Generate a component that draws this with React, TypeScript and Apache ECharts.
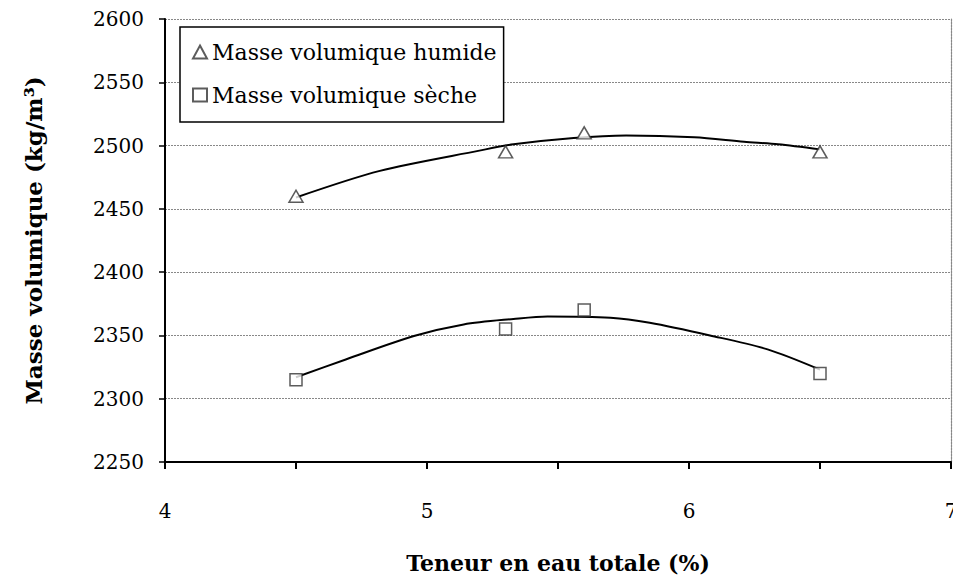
import React, { useEffect, useRef } from "react";
import * as echarts from "echarts";

const xTickLabels = ["4", "5", "6", "7"];
const humideX = [4.5, 5.3, 5.6, 6.5];
const humideY = [2460, 2495, 2510, 2495];
const secheX = [4.5, 5.3, 5.6, 6.5];
const secheY = [2315, 2355, 2370, 2320];
// trend curves
const humideTrendX = [4.5, 4.82, 5.2, 5.33, 5.56, 5.76, 6.02, 6.21, 6.34, 6.5];
const humideTrendY = [2459, 2480, 2496, 2501, 2506, 2508, 2506.5, 2503, 2501, 2497];
const secheTrendX = [4.5, 4.69, 4.95, 5.14, 5.33, 5.46, 5.7, 5.85, 6.08, 6.3, 6.5];
const secheTrendY = [2317, 2331, 2349.5, 2358.7, 2363, 2365, 2364, 2360, 2350, 2339, 2323];

const FONT = "DejaVu Serif";

export default function App() {
  const ref = useRef<HTMLDivElement>(null);
  useEffect(() => {
    document.body.style.margin = "0";
    document.body.style.overflow = "hidden";
    document.documentElement.style.overflow = "hidden";
    const chart = echarts.init(ref.current!, null, { renderer: "svg", width: 953, height: 579 });
    const pair = (xs: number[], ys: number[]) => xs.map((x, i) => [x, ys[i]]);
    const markerStyle = { color: "#fff", borderColor: "#333", borderWidth: 1.5 };
    chart.setOption({
      animation: false,
      backgroundColor: "#fff",
      textStyle: { fontFamily: FONT, color: "#000" },
      grid: { left: 165, right: 2, top: 19, bottom: 117, containLabel: false, outerBoundsMode: "none" },
      legend: {
        orient: "vertical",
        left: 180,
        top: 27,
        padding: [10, 7, 12, 12],
        itemGap: 13,
        itemWidth: 14,
        itemHeight: 13,
        borderColor: "#000",
        borderWidth: 1.5,
        backgroundColor: "#fff",
        data: ["Masse volumique humide", "Masse volumique sèche"],
        textStyle: { fontFamily: FONT, fontSize: 22, color: "#000", lineHeight: 30 },
      },
      xAxis: {
        type: "value",
        min: 4,
        max: 7,
        interval: 0.5,
        name: "Teneur en eau totale (%)",
        nameLocation: "middle",
        nameGap: 90,
        nameTextStyle: { fontFamily: FONT, fontSize: 22, fontWeight: "bold", color: "#000" },
        axisLine: { lineStyle: { color: "#000", width: 2 } },
        axisTick: { show: true, inside: false, length: 7, lineStyle: { color: "#000", width: 2 } },
        axisLabel: {
          margin: 39,
          fontFamily: FONT,
          fontSize: 20,
          color: "#000",
          formatter: (v: number) => {
            const s = String(v);
            return xTickLabels.includes(s) ? s : "";
          },
        },
        splitLine: { show: false },
      },
      yAxis: [
        {
          type: "value",
          min: 2250,
          max: 2600,
          interval: 50,
          name: "Masse volumique (kg/m³)",
          nameLocation: "middle",
          nameGap: 120,
          nameRotate: 90,
          nameTextStyle: { fontFamily: FONT, fontSize: 23, fontWeight: "bold", color: "#000" },
          axisLine: { show: true, lineStyle: { color: "#000", width: 2 } },
          axisTick: { show: true, inside: false, length: 6, lineStyle: { color: "#000", width: 1.5 } },
          axisLabel: {
            margin: 21,
            fontFamily: FONT,
            fontSize: 20,
            color: "#000",
            formatter: (v: number) => String(v),
          },
          splitLine: { show: true, lineStyle: { color: "#888", width: 1.2, type: [2, 1] } },
        },
        {
          type: "value",
          position: "right",
          min: 2250,
          max: 2600,
          interval: 50,
          axisLine: { show: true, lineStyle: { color: "#888", width: 1.2, type: [2, 1] } },
          axisTick: { show: false },
          axisLabel: { show: false },
          splitLine: { show: false },
        },
      ],
      series: [
        {
          name: "trend humide",
          type: "line",
          smooth: 0.3,
          symbol: "none",
          data: pair(humideTrendX, humideTrendY),
          lineStyle: { color: "#000", width: 2 },
          z: 2,
        },
        {
          name: "trend seche",
          type: "line",
          smooth: 0.3,
          symbol: "none",
          data: pair(secheTrendX, secheTrendY),
          lineStyle: { color: "#000", width: 2 },
          z: 2,
        },
        {
          name: "Masse volumique humide",
          type: "scatter",
          symbol: "triangle",
          symbolSize: [14, 12],
          data: pair(humideX, humideY),
          itemStyle: markerStyle,
          z: 3,
        },
        {
          name: "Masse volumique sèche",
          type: "scatter",
          symbol: "rect",
          symbolSize: 12,
          data: pair(secheX, secheY),
          itemStyle: markerStyle,
          z: 3,
        },
      ],
    });
    return () => chart.dispose();
  }, []);
  return <div ref={ref} style={{ width: 953, height: 579 }} />;
}
